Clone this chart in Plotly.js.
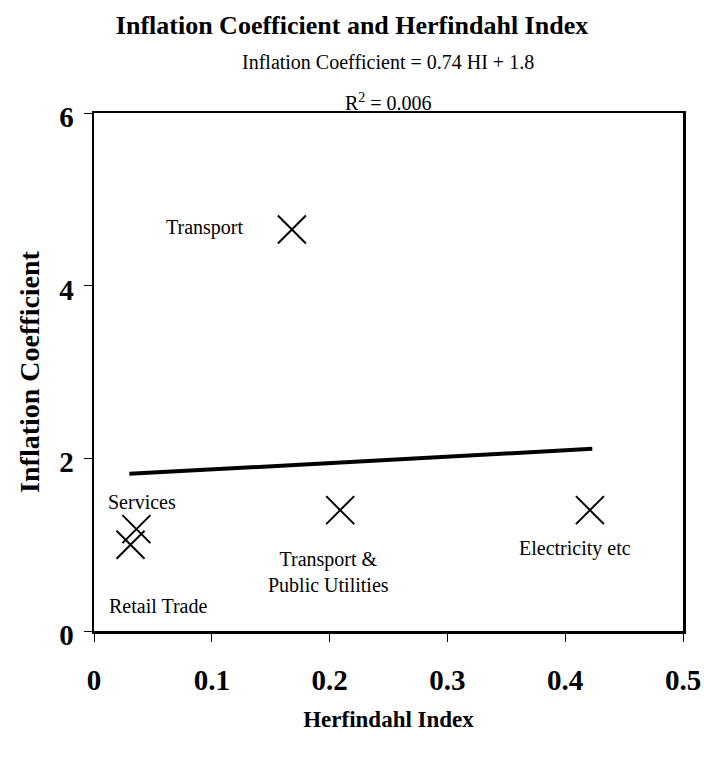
<!DOCTYPE html>
<html>
<head>
<meta charset="utf-8">
<script src="https://cdn.plot.ly/plotly-3.0.1.min.js"></script>
<style>body{margin:0;padding:0;background:#fff}#chart{width:704px;height:760px}</style>
</head>
<body>
<div id="chart"></div>
<script>
var sectors = ["Transport", "Services", "Retail Trade", "Transport &<br>Public Utilities", "Electricity etc"];
var herfindahl = [0.168, 0.036, 0.031, 0.209, 0.421];
var inflationCoef = [4.65, 1.18, 1.00, 1.40, 1.40];
var trendX = [0.030, 0.423];
var trendY = [1.82, 2.11];
var xTicks = [0, 0.1, 0.2, 0.3, 0.4, 0.5];
var xTickText = ["0", "0.1", "0.2", "0.3", "0.4", "0.5"];
var yTicks = [0, 2, 4, 6];
var yTickText = ["0", "2", "4", "6"];

var serif = "Liberation Serif, Times New Roman, serif";

var W = 704, H = 760, ml = 94, mr = 21, mt = 113, mb = 129;
var pw = W - ml - mr, ph = H - mt - mb;

var labelPos = [
  {x: 0.094, y: 4.67},
  {x: 0.041, y: 1.49},
  {x: 0.054, y: 0.29},
  {x: 0.199, y: 0.68},
  {x: 0.408, y: 0.96}
];

var annotations = sectors.map(function(s, i) {
  return {x: labelPos[i].x, y: labelPos[i].y, xref: 'x', yref: 'y', text: s, showarrow: false,
          font: {family: serif, size: 20, color: '#000'}, align: 'center'};
});
annotations.push({x: (388 - ml) / pw, y: (H - mb - 62) / ph, xref: 'paper', yref: 'paper', yanchor: 'middle',
  text: 'Inflation Coefficient = 0.74 HI + 1.8', showarrow: false,
  font: {family: serif, size: 20, color: '#000'}});
annotations.push({x: (388 - ml) / pw, y: (H - mb - 102) / ph, xref: 'paper', yref: 'paper', yanchor: 'middle',
  text: 'R<sup>2</sup> = 0.006', showarrow: false,
  font: {family: serif, size: 20, color: '#000'}});

var data = [
  {x: trendX, y: trendY, mode: 'lines', type: 'scatter', line: {color: '#000', width: 4}, hoverinfo: 'skip'},
  {x: herfindahl, y: inflationCoef, mode: 'markers', type: 'scatter',
   marker: {symbol: 'x-thin-open', size: 28, color: '#000', line: {color: '#000', width: 2}}}
];

var layout = {
  width: W, height: H,
  margin: {l: ml, r: mr, t: mt, b: mb, pad: 0},
  paper_bgcolor: '#fff', plot_bgcolor: '#fff',
  showlegend: false,
  title: {text: '<b>Inflation Coefficient and Herfindahl Index</b>', x: 352 / W, xanchor: 'center', y: 1 - 25 / H, yanchor: 'middle',
          font: {family: serif, size: 26, color: '#000'}},
  xaxis: {range: [0, 0.5], tickvals: xTicks, ticktext: xTickText, showgrid: false, zeroline: false,
          showline: true, linecolor: '#000', linewidth: 2.5, mirror: true,
          ticks: 'outside', ticklen: 8, tickwidth: 1, tickcolor: '#000', ticklabelstandoff: 14,
          tickfont: {family: serif, size: 29, color: '#000', weight: 'bold'},
          title: {text: '<b>Herfindahl Index</b>', font: {family: serif, size: 23, color: '#000'}, standoff: 16}},
  yaxis: {range: [0, 6], tickvals: yTicks, ticktext: yTickText, showgrid: false, zeroline: false,
          showline: true, linecolor: '#000', linewidth: 2.5, mirror: true,
          ticks: 'outside', ticklen: 8, tickwidth: 1, tickcolor: '#000', ticklabelstandoff: 4, ticklabelshift: 4,
          tickfont: {family: serif, size: 29, color: '#000', weight: 'bold'},
          title: {text: '<b>Inflation Coefficient</b>', font: {family: serif, size: 28, color: '#000'}, standoff: 12}},
  annotations: annotations
};

Plotly.newPlot('chart', data, layout, {displayModeBar: false, staticPlot: true});
</script>
</body>
</html>
